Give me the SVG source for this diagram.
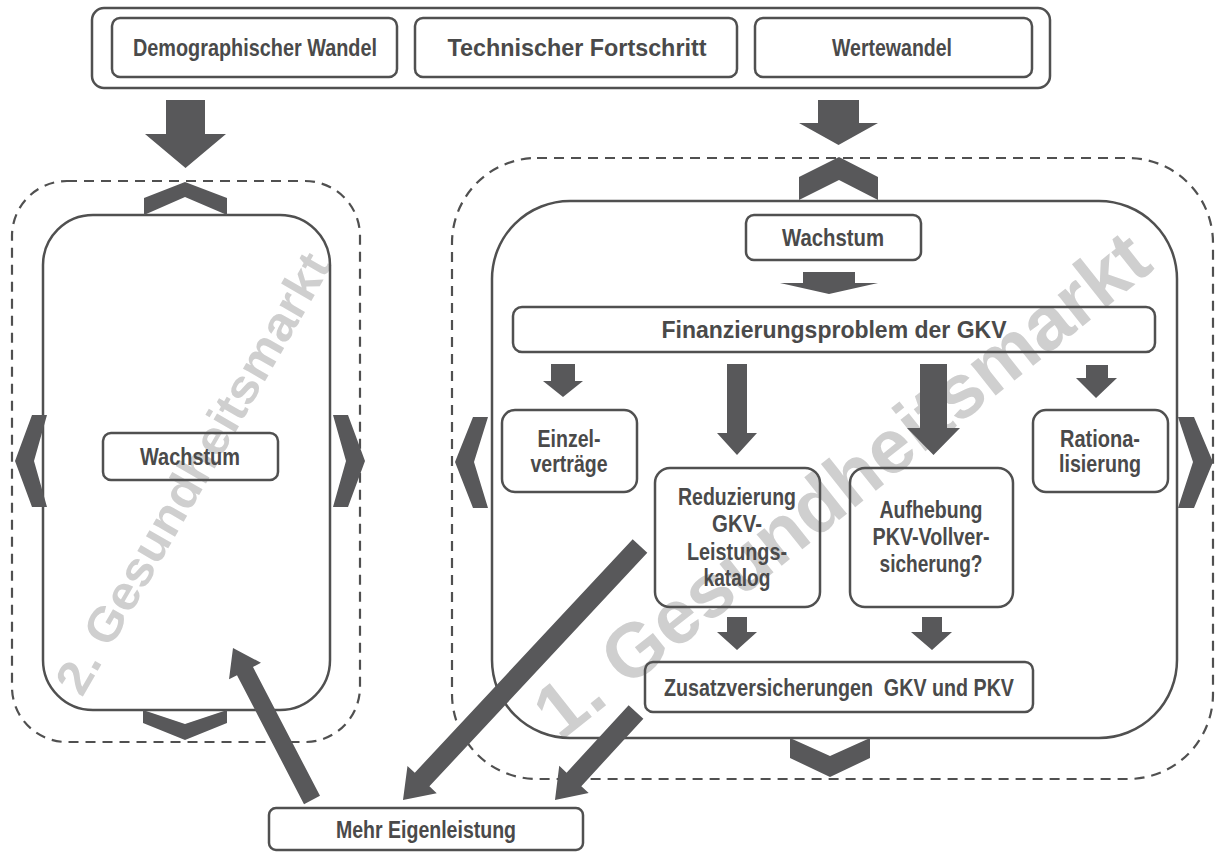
<svg xmlns="http://www.w3.org/2000/svg" width="1219" height="857" viewBox="0 0 1219 857">
<style>
.box{fill:none;stroke:#505050;stroke-width:2.5}
.dash{fill:none;stroke:#505050;stroke-width:2.2;stroke-dasharray:10 7}
.arr{fill:#58585a}
.t{font-family:"Liberation Sans",Arial,sans-serif;font-weight:bold;font-size:24px;fill:#4a4a4a;text-anchor:middle}
.wm{font-family:"Liberation Sans",Arial,sans-serif;font-weight:bold;fill:#cfcfcf}
</style>
<rect width="1219" height="857" fill="#ffffff"/>
<g id="watermarks">
<text class="wm" font-size="48" transform="translate(82,698) rotate(-60)" textLength="500" lengthAdjust="spacingAndGlyphs">2. Gesundheitsmarkt</text>
<text class="wm" font-size="76" transform="translate(560,742) rotate(-38.5)" textLength="761" lengthAdjust="spacingAndGlyphs">1. Gesundheitsmarkt</text>
</g>
<g id="drivers">
<rect class="box" x="92" y="8" width="958" height="80" rx="12"/>
<g id="demographischer-wandel"><rect class="box" x="112" y="18" width="285" height="59" rx="8"/><text class="t" x="255" y="56" textLength="244" lengthAdjust="spacingAndGlyphs">Demographischer Wandel</text></g>
<g id="technischer-fortschritt"><rect class="box" x="415" y="18" width="322" height="59" rx="8"/><text class="t" x="577" y="56" textLength="259" lengthAdjust="spacingAndGlyphs">Technischer Fortschritt</text></g>
<g id="wertewandel"><rect class="box" x="755" y="18" width="277" height="59" rx="8"/><text class="t" x="892" y="56" textLength="120" lengthAdjust="spacingAndGlyphs">Wertewandel</text></g>
</g>
<g id="markt2">
<rect class="dash" x="12" y="181" width="348" height="561" rx="55"/>
<rect class="box" x="43" y="215" width="287" height="495" rx="50"/>
<polygon class="arr" points="144,198 185,182 227,198 227,215 185,197 144,215"/>
<polygon class="arr" points="143,710 185,724 227,710 227,723 185,740 143,723"/>
<polygon class="arr" points="32,415 47,415 34,461 47,507 32,507 15,461"/>
<polygon class="arr" points="333,415 348,415 365,461 348,507 333,507 346,461"/>
</g>
<g id="wachstum-2"><rect class="box" x="103" y="433" width="175" height="47" rx="8"/><text class="t" x="190" y="465" textLength="100" lengthAdjust="spacingAndGlyphs">Wachstum</text></g>
<g id="markt1">
<rect class="dash" x="452" y="158" width="761" height="621" rx="85"/>
<rect class="box" x="492" y="201" width="685" height="537" rx="78"/>
<polygon class="arr" points="799,177 839,157 878,177 878,200 839,180 799,200"/>
<polygon class="arr" points="790,738 830,756 870,738 870,758 830,777 790,758"/>
<polygon class="arr" points="473,417 488,417 474,462 488,508 473,508 455,462"/>
<polygon class="arr" points="1178,417 1194,417 1213,462 1194,508 1178,508 1193,462"/>
</g>
<g id="wachstum-1"><rect class="box" x="746" y="215" width="175" height="45" rx="8"/><text class="t" x="833" y="246" textLength="102" lengthAdjust="spacingAndGlyphs">Wachstum</text></g>
<g id="finanzierungsproblem"><rect class="box" x="513" y="307" width="642" height="45" rx="9"/><text class="t" x="834" y="338" textLength="345" lengthAdjust="spacingAndGlyphs">Finanzierungsproblem der GKV</text></g>
<g id="einzelvertraege"><rect class="box" x="502" y="410" width="135" height="82" rx="13"/><text class="t" x="569" y="447" textLength="63" lengthAdjust="spacingAndGlyphs">Einzel-</text><text class="t" x="569" y="472" textLength="77" lengthAdjust="spacingAndGlyphs">verträge</text></g>
<g id="reduzierung"><rect class="box" x="655" y="468" width="165" height="139" rx="15"/><text class="t" x="737" y="505" textLength="118" lengthAdjust="spacingAndGlyphs">Reduzierung</text><text class="t" x="737" y="532" textLength="50" lengthAdjust="spacingAndGlyphs">GKV-</text><text class="t" x="737" y="560" textLength="100" lengthAdjust="spacingAndGlyphs">Leistungs-</text><text class="t" x="737" y="586" textLength="67" lengthAdjust="spacingAndGlyphs">katalog</text></g>
<g id="aufhebung"><rect class="box" x="850" y="468" width="163" height="139" rx="15"/><text class="t" x="931" y="518" textLength="103" lengthAdjust="spacingAndGlyphs">Aufhebung</text><text class="t" x="931" y="545" textLength="117" lengthAdjust="spacingAndGlyphs">PKV-Vollver-</text><text class="t" x="931" y="572" textLength="103" lengthAdjust="spacingAndGlyphs">sicherung?</text></g>
<g id="rationalisierung"><rect class="box" x="1033" y="410" width="135" height="82" rx="13"/><text class="t" x="1100" y="447" textLength="80" lengthAdjust="spacingAndGlyphs">Rationa-</text><text class="t" x="1100" y="472" textLength="82" lengthAdjust="spacingAndGlyphs">lisierung</text></g>
<g id="zusatzversicherungen"><rect class="box" x="645" y="662" width="388" height="50" rx="8"/><text class="t" x="839" y="696" textLength="350" lengthAdjust="spacingAndGlyphs" style="white-space:pre">Zusatzversicherungen  GKV und PKV</text></g>
<g id="mehr-eigenleistung"><rect class="box" x="269" y="808" width="314" height="42" rx="7"/><text class="t" x="426" y="838" textLength="180" lengthAdjust="spacingAndGlyphs">Mehr Eigenleistung</text></g>
<g id="connectors">
<polygon class="arr" points="166,100 205,100 205,134 226,134 185.5,168 145,134 166,134"/>
<polygon class="arr" points="818,100 859,100 859,123 878,123 838.5,145 799,123 818,123"/>
<polygon class="arr" points="803,272 855,272 855,283 878,283 829,294 780,283 803,283"/>
<polygon class="arr" points="551,364 575,364 575,381 583,381 563,397 543,381 551,381"/>
<polygon class="arr" points="727,364 747,364 747,433 757,433 737,455 717,433 727,433"/>
<polygon class="arr" points="920,364 947,364 947,428 960,428 933.5,455 907,428 920,428"/>
<polygon class="arr" points="1086,365 1108,365 1108,378 1117,378 1096,398 1076,378 1086,378"/>
<polygon class="arr" points="727,617 747,617 747,632 757,632 737,650 717,632 727,632"/>
<polygon class="arr" points="922,617 942,617 942,632 952,632 932,650 911,632 922,632"/>
<polygon class="arr" points="319.99,795.85 252.98,666.92 260.96,662.77 233,648 229.02,679.37 237,675.22 304.01,804.15"/>
<polygon class="arr" points="632.69,539.18 414.79,772.71 407.48,765.89 403,800 436.72,793.17 429.41,786.35 647.31,552.82"/>
<polygon class="arr" points="628.64,705.23 566.6,772.63 559.24,765.85 555,800 588.68,792.95 581.32,786.17 643.36,718.77"/>
</g>
</svg>
